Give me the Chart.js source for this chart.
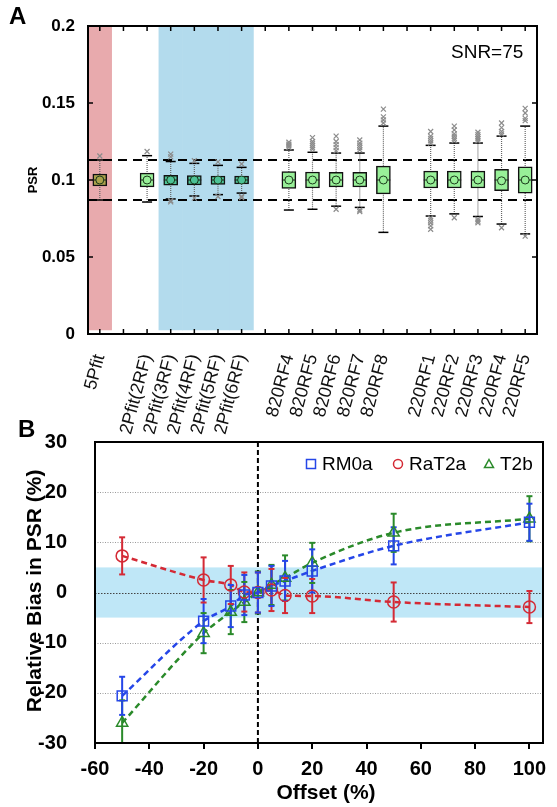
<!DOCTYPE html>
<html>
<head>
<meta charset="utf-8">
<script src="https://cdn.jsdelivr.net/npm/chart.js@4.4.1/dist/chart.umd.min.js"></script>
<style>
  body { margin: 0; background: #fff; }
  #wrap { position: relative; width: 557px; height: 807px; }
  #cA { position: absolute; left: 0; top: 0; }
  #cB { position: absolute; left: 0; top: 395px; }
</style>
</head>
<body>
<div id="wrap">
  <canvas id="cA" width="557" height="440"></canvas>
  <canvas id="cB" width="557" height="412"></canvas>
</div>
<script>
// ===============================
// PANEL A - box plots of PSR
// ===============================
const catLabels = ['5Pfit', '', '2Pfit(2RF)', '2Pfit(3RF)', '2Pfit(4RF)', '2Pfit(5RF)', '2Pfit(6RF)', '',
  '820RF4', '820RF5', '820RF6', '820RF7', '820RF8', '',
  '220RF1', '220RF2', '220RF3', '220RF4', '220RF5'];

const q1 = [0.0961, null, 0.0955, 0.0966, 0.0968, 0.0972, 0.0974, null,
  0.0945, 0.0948, 0.0955, 0.0955, 0.0910, null, 0.0948, 0.0948, 0.0948, 0.0930, 0.0915];
const q3 = [0.1039, null, 0.1045, 0.1030, 0.1028, 0.1026, 0.1025, null,
  0.1055, 0.1052, 0.1050, 0.1050, 0.1090, null, 0.1058, 0.1058, 0.1058, 0.1070, 0.1085];
const medians = [0.1, null, 0.1, 0.1, 0.1, 0.1, 0.1, null,
  0.1, 0.1, 0.1, 0.1, 0.1, null, 0.1, 0.1, 0.1, 0.1, 0.1];
const means = [0.1, null, 0.1, 0.1, 0.1, 0.1, 0.1, null,
  0.1, 0.1, 0.1, 0.1, 0.1, null, 0.1, 0.1, 0.1, 0.0995, 0.1];
const whiskLo = [0.0870, null, 0.0857, 0.0877, 0.0896, 0.0905, 0.0915, null,
  0.0805, 0.0810, 0.0830, 0.0822, 0.0660, null, 0.0766, 0.0780, 0.0763, 0.0714, 0.0650];
const whiskHi = [0.1130, null, 0.1158, 0.1120, 0.1108, 0.1095, 0.1082, null,
  0.1195, 0.1180, 0.1175, 0.1175, 0.1350, null, 0.1225, 0.1240, 0.1240, 0.1285, 0.1350];
const outliers = [
  [0.1156],
  [],
  [0.1185],
  [0.1150, 0.1168, 0.0866, 0.0858],
  [0.1125, 0.0882],
  [0.1118, 0.0893],
  [0.1104, 0.0893, 0.0886],
  [],
  [0.1212, 0.1222, 0.1232, 0.1245],
  [0.1200, 0.1212, 0.1225, 0.1238, 0.1250, 0.1275],
  [0.1190, 0.1210, 0.1230, 0.1250, 0.1285, 0.0810],
  [0.1195, 0.1210, 0.1225, 0.1240, 0.1260, 0.0805, 0.0795],
  [0.1370, 0.1390, 0.1410, 0.1460],
  [],
  [0.1240, 0.1255, 0.1270, 0.1285, 0.1315, 0.0752, 0.0738, 0.0722, 0.0702, 0.0680],
  [0.1258, 0.1270, 0.1285, 0.1300, 0.1325, 0.1350, 0.0755],
  [0.1255, 0.1268, 0.1280, 0.1295, 0.1310, 0.0745, 0.0733, 0.0722],
  [0.1300, 0.1315, 0.1340, 0.1370, 0.0690],
  [0.1385, 0.1400, 0.1435, 0.1465, 0.0635]
];
const boxColors = ['#aaa24a', null, '#98f098', '#4cc296', '#4cc296', '#4cc296', '#4cc296', null,
  '#98f098', '#98f098', '#98f098', '#98f098', '#98f098', null,
  '#98f098', '#98f098', '#98f098', '#98f098', '#98f098'];
const refLines = [0.113, 0.087];
const redBandSlots = [0];
const blueBandSlots = [3, 4, 5, 6];
const bandRange = [0.0026, 0.2];
const yTicksA = [0, 0.05, 0.1, 0.15, 0.2];

// ===============================
// PANEL B - relative bias vs offset
// ===============================
const offsets = [-50, -20, -10, -5, 0, 5, 10, 20, 50, 100];
const rm0a = [-20.6, -5.7, -2.7, -0.5, 0, 1.3, 2.3, 4.3, 9.3, 14.0];
const rm0aErr = [3.8, 4.4, 4.2, 4.0, 4.0, 4.0, 4.0, 4.3, 3.7, 3.7];
const rat2a = [7.3, 2.5, 1.5, 0.1, 0, 0.5, -0.6, -0.7, -1.9, -2.9];
const rat2aErr = [3.7, 4.5, 3.8, 3.9, 4.0, 4.2, 3.5, 3.4, 3.9, 3.2];
const t2b = [-26.0, -8.1, -3.9, -1.9, 0, 1.5, 2.9, 5.9, 11.9, 14.7];
const t2bErr = [4.5, 4.0, 4.4, 4.0, 4.2, 4.0, 4.5, 4.0, 3.8, 4.5];
const xTicksB = [-60, -40, -20, 0, 20, 40, 60, 80, 100];
const yTicksB = [-30, -20, -10, 0, 10, 20, 30];
const gridLinesB = [-20, -10, 10, 20];
const bandB = [-5, 5];

Chart.defaults.font.family = "'Liberation Sans', Arial, sans-serif";
Chart.defaults.color = '#000';

// ---------- helpers ----------
const idx = catLabels.map((_, i) => i).filter(i => q1[i] !== null);

function bandData(slots){
  return slots.map(i => ({ x: i, y: bandRange }));
}

// ---------- panel A drawing extras ----------
const extrasA = {
  id: 'extrasA',
  afterDraw(chart){
    const { ctx, chartArea: a, scales: { x, y } } = chart;
    ctx.save();
    ctx.strokeStyle = '#000';
    ctx.lineWidth = 2;
    ctx.strokeRect(a.left, a.top, a.right - a.left, a.bottom - a.top);
    ctx.lineWidth = 1.5;
    ctx.beginPath();
    x.ticks.forEach(t => {
      const px = x.getPixelForValue(t.value);
      ctx.moveTo(px, a.top); ctx.lineTo(px, a.top + 5);
      ctx.moveTo(px, a.bottom); ctx.lineTo(px, a.bottom - 5);
    });
    y.ticks.forEach(t => {
      const py = y.getPixelForValue(t.value);
      ctx.moveTo(a.left, py); ctx.lineTo(a.left + 5, py);
      ctx.moveTo(a.right, py); ctx.lineTo(a.right - 5, py);
    });
    ctx.stroke();

    ctx.fillStyle = '#000';
    ctx.font = "bold 24px 'Liberation Sans', Arial, sans-serif";
    ctx.textAlign = 'left';
    ctx.textBaseline = 'alphabetic';
    ctx.fillText('A', 9, 24);

    ctx.font = "19px 'Liberation Sans', Arial, sans-serif";
    ctx.textBaseline = 'middle';
    ctx.fillText('SNR=75', 451, 53);

    ctx.translate(33, 180);
    ctx.rotate(-Math.PI / 2);
    ctx.textAlign = 'center';
    ctx.font = "bold 13px 'Liberation Sans', Arial, sans-serif";
    ctx.fillText('PSR', 0, 0);
    ctx.restore();
  }
};

new Chart(document.getElementById('cA'), {
  type: 'bar',
  data: {
    datasets: [
      {
        type: 'line', order: 3,
        data: idx.flatMap(i => outliers[i].map(v => ({ x: i, y: v }))),
        showLine: false, pointStyle: 'crossRot', pointRadius: 3.5,
        pointBorderColor: '#8c8c8c', pointBorderWidth: 1.2
      },
      {
        type: 'line', order: 4,
        data: idx.map(i => ({ x: i, y: means[i] })),
        showLine: false, pointStyle: 'circle', pointRadius: 4,
        pointBackgroundColor: idx.map(i => boxColors[i]),
        pointBorderColor: '#1a3a1a', pointBorderWidth: 1
      },
      {
        type: 'line', order: 5,
        data: idx.map(i => ({ x: i, y: medians[i] })),
        showLine: false, pointStyle: 'line', pointRadius: 7,
        pointBorderColor: '#222', pointBorderWidth: 1
      },
      {
        type: 'bar', order: 6,
        data: idx.map(i => ({ x: i, y: [q1[i], q3[i]] })),
        backgroundColor: idx.map(i => boxColors[i]),
        borderColor: '#111', borderWidth: 1.5, borderSkipped: false,
        barThickness: 14, grouped: false
      },
      {
        type: 'line', order: 7,
        data: idx.flatMap(i => [{ x: i, y: whiskLo[i] }, { x: i, y: whiskHi[i] }]),
        showLine: false, pointStyle: 'line', pointRadius: 5,
        pointBorderColor: '#000', pointBorderWidth: 1.5
      },
      {
        type: 'line', order: 8,
        data: idx.flatMap(i => [{ x: i, y: whiskLo[i] }, { x: i, y: whiskHi[i] }, { x: i, y: null }]),
        borderColor: '#666', borderWidth: 1.2, borderDash: [1, 1],
        pointRadius: 0, spanGaps: false
      },
      ...refLines.map(v => ({
        type: 'line', order: 9,
        data: [{ x: -0.5, y: v }, { x: catLabels.length - 0.5, y: v }],
        borderColor: '#000', borderWidth: 2, borderDash: [9, 6], pointRadius: 0
      })),
      {
        type: 'bar', order: 10, data: bandData(redBandSlots),
        backgroundColor: '#e8aaad', borderWidth: 0,
        barPercentage: 1, categoryPercentage: 1, grouped: false
      },
      {
        type: 'bar', order: 10, data: bandData(blueBandSlots),
        backgroundColor: '#b3dbed', borderWidth: 0,
        barPercentage: 1, categoryPercentage: 1, grouped: false
      }
    ]
  },
  options: {
    responsive: false,
    animation: false,
    events: [],
    layout: { padding: { left: 0, top: 26, right: 20, bottom: 0 } },
    plugins: { legend: { display: false }, tooltip: { enabled: false } },
    scales: {
      x: {
        type: 'linear', min: -0.5, max: catLabels.length - 0.5, offset: false,
        afterBuildTicks: s => { s.ticks = catLabels.map((_, i) => ({ value: i })); },
        afterFit: s => { s.height = 106; },
        grid: { display: false },
        border: { display: false },
        ticks: {
          autoSkip: false, minRotation: 75, maxRotation: 75, padding: 10,
          font: { size: 18 }, color: '#111',
          callback: v => catLabels[v] ?? ''
        }
      },
      y: {
        min: 0, max: 0.2,
        afterBuildTicks: s => { s.ticks = yTicksA.map(v => ({ value: v })); },
        afterFit: s => { s.width = 88; },
        grid: { display: false },
        border: { display: false },
        ticks: { padding: 5, font: { size: 17, weight: 'bold' }, callback: v => String(v) }
      }
    }
  },
  plugins: [extrasA]
});

// ---------- panel B ----------
const seriesB = [
  { label: 'RM0a', y: rm0a, err: rm0aErr, color: '#2546e8', style: 'rect', r: 7 },
  { label: 'RaT2a', y: rat2a, err: rat2aErr, color: '#d42a35', style: 'circle', r: 6 },
  { label: 'T2b', y: t2b, err: t2bErr, color: '#2a8a2a', style: 'triangle', r: 6.5 }
];

function marker(ctx, style, x, y, r){
  ctx.beginPath();
  if(style === 'rect') ctx.rect(x - r, y - r, 2 * r, 2 * r);
  if(style === 'circle') ctx.arc(x, y, r, 0, Math.PI * 2);
  if(style === 'triangle'){
    ctx.moveTo(x, y - r); ctx.lineTo(x + r, y + r * 0.8); ctx.lineTo(x - r, y + r * 0.8); ctx.closePath();
  }
  ctx.stroke();
}

const extrasB = {
  id: 'extrasB',
  beforeDatasetsDraw(chart){
    const { ctx, chartArea: a, scales: { x, y } } = chart;
    ctx.save();
    ctx.fillStyle = '#bfe7f7';
    const yb1 = y.getPixelForValue(bandB[1]), yb0 = y.getPixelForValue(bandB[0]);
    ctx.fillRect(a.left, yb1, a.right - a.left, yb0 - yb1);

    ctx.lineWidth = 1;
    ctx.strokeStyle = '#9a9a9a';
    ctx.setLineDash([1, 1.5]);
    ctx.beginPath();
    gridLinesB.forEach(v => {
      const py = Math.round(y.getPixelForValue(v)) + 0.5;
      ctx.moveTo(a.left, py); ctx.lineTo(a.right, py);
    });
    ctx.stroke();
    ctx.strokeStyle = '#444';
    ctx.setLineDash([1.5, 1.5]);
    ctx.beginPath();
    const p0 = Math.round(y.getPixelForValue(0)) + 0.5;
    ctx.moveTo(a.left, p0); ctx.lineTo(a.right, p0);
    ctx.stroke();

    ctx.strokeStyle = '#000';
    ctx.lineWidth = 2;
    ctx.setLineDash([5, 3]);
    ctx.beginPath();
    const px0 = x.getPixelForValue(0);
    ctx.moveTo(px0, a.top); ctx.lineTo(px0, a.bottom);
    ctx.stroke();
    ctx.restore();
  },
  afterDraw(chart){
    const { ctx, chartArea: a } = chart;
    ctx.save();
    ctx.strokeStyle = '#000';
    ctx.lineWidth = 2;
    ctx.strokeRect(a.left, a.top, a.right - a.left, a.bottom - a.top);

    // legend
    ctx.font = "19px 'Liberation Sans', Arial, sans-serif";
    ctx.textBaseline = 'middle';
    ctx.textAlign = 'left';
    const legX = [311, 398, 489];
    seriesB.forEach((s, k) => {
      ctx.strokeStyle = s.color;
      ctx.lineWidth = 1.5;
      marker(ctx, s.style, legX[k], 69, 4.5);
      ctx.fillStyle = '#000';
      ctx.fillText(s.label, legX[k] + 11, 70);
    });

    ctx.fillStyle = '#000';
    ctx.font = "bold 24px 'Liberation Sans', Arial, sans-serif";
    ctx.textBaseline = 'alphabetic';
    ctx.fillText('B', 18, 42);

    ctx.font = "bold 21px 'Liberation Sans', Arial, sans-serif";
    ctx.textAlign = 'center';
    ctx.textBaseline = 'middle';
    ctx.fillText('Offset (%)', 326, 398);

    ctx.translate(35, 196);
    ctx.rotate(-Math.PI / 2);
    ctx.fillText('Relative Bias in PSR (%)', 0, 0);
    ctx.restore();
  }
};

const datasetsB = [];
seriesB.forEach(s => {
  datasetsB.push({
    order: 1,
    data: offsets.map((x, i) => ({ x, y: s.y[i] })),
    showLine: false, pointStyle: s.style, pointRadius: s.r,
    pointBorderColor: s.color, pointBorderWidth: 1.5,
    pointBackgroundColor: 'rgba(0,0,0,0)'
  });
  datasetsB.push({
    order: 2,
    data: offsets.flatMap((x, i) => [{ x, y: s.y[i] - s.err[i] }, { x, y: s.y[i] + s.err[i] }]),
    showLine: false, pointStyle: 'line', pointRadius: 3,
    pointBorderColor: s.color, pointBorderWidth: 2
  });
  datasetsB.push({
    order: 3,
    data: offsets.flatMap((x, i) => [{ x, y: s.y[i] - s.err[i] }, { x, y: s.y[i] + s.err[i] }, { x, y: null }]),
    borderColor: s.color, borderWidth: 2, pointRadius: 0, spanGaps: false
  });
  datasetsB.push({
    order: 4,
    data: offsets.map((x, i) => ({ x, y: s.y[i] })),
    borderColor: s.color, borderWidth: 2.5, borderDash: [6, 4],
    pointRadius: 0, tension: 0.4, cubicInterpolationMode: 'monotone'
  });
});

new Chart(document.getElementById('cB'), {
  type: 'line',
  data: { datasets: datasetsB },
  options: {
    responsive: false,
    animation: false,
    events: [],
    layout: { padding: { left: 0, top: 47, right: 14, bottom: 0 } },
    plugins: { legend: { display: false }, tooltip: { enabled: false } },
    scales: {
      x: {
        type: 'linear', min: -60, max: 105,
        afterBuildTicks: s => { s.ticks = xTicksB.map(v => ({ value: v })); },
        afterFit: s => { s.height = 64; },
        grid: { drawOnChartArea: false, drawTicks: true, tickLength: 6, color: '#000', lineWidth: 2 },
        border: { display: false },
        ticks: { padding: 8, font: { size: 20, weight: 'bold' } }
      },
      y: {
        min: -30, max: 30,
        afterBuildTicks: s => { s.ticks = yTicksB.map(v => ({ value: v })); },
        afterFit: s => { s.width = 95; },
        grid: { display: false },
        border: { display: false },
        ticks: { padding: 20, font: { size: 20, weight: 'bold' } }
      }
    }
  },
  plugins: [extrasB]
});
</script>
</body>
</html>
